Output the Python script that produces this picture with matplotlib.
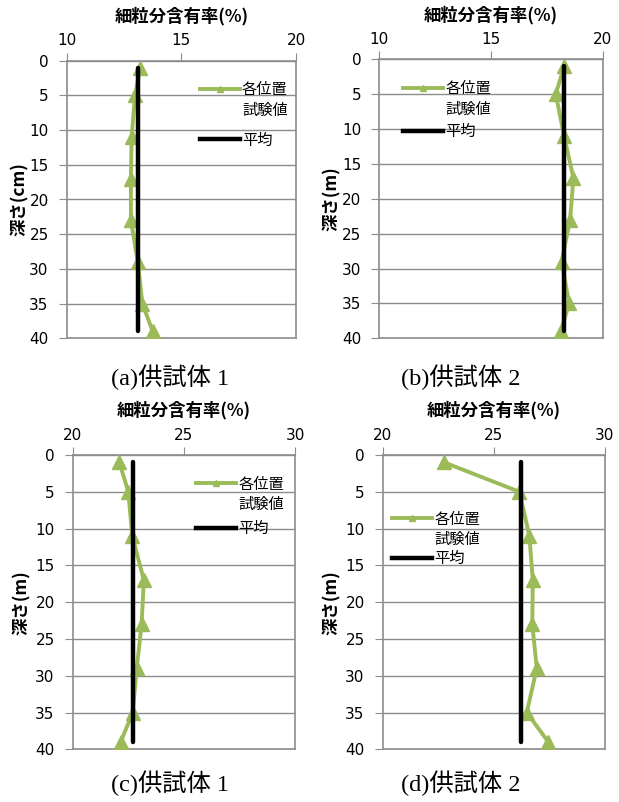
import matplotlib
matplotlib.use("Agg")
import matplotlib.pyplot as plt
from matplotlib.lines import Line2D

plt.rcParams['font.family'] = ['Noto Sans CJK JP', 'DejaVu Sans']

# Depths of the measurement positions and the span of the mean line
depths = [1, 5, 11, 17, 23, 29, 35, 39]
mean_depths = [1, 39]

# Fines content (%) measured at each position
fines_a = [13.2, 12.98, 12.83, 12.8, 12.8, 13.1, 13.3, 13.75]
fines_b = [18.27, 17.9, 18.27, 18.69, 18.54, 18.16, 18.5, 18.12]
fines_c = [22.1, 22.5, 22.68, 23.2, 23.1, 22.88, 22.7, 22.16]
fines_d = [22.76, 26.15, 26.6, 26.75, 26.73, 26.93, 26.48, 27.45]

# Mean fines content for each specimen
mean_a = 13.1
mean_b = 18.28
mean_c = 22.7
mean_d = 26.22

x_ranges = [(10, 20), (10, 20), (20, 30), (20, 30)]
x_ticks = [[10, 15, 20], [10, 15, 20], [20, 25, 30], [20, 25, 30]]
y_ticks = [0, 5, 10, 15, 20, 25, 30, 35, 40]

x_title = '細粒分含有率(%)'
y_titles = ['深さ(cm)', '深さ(m)', '深さ(m)', '深さ(m)']
captions = ['(a)供試体 1', '(b)供試体 2', '(c)供試体 1', '(d)供試体 2']
series_label = ['各位置', '試験値']
mean_label = '平均'

panels = [
    (fines_a, mean_a),
    (fines_b, mean_b),
    (fines_c, mean_c),
    (fines_d, mean_d),
]

W, H = 619, 802
# axes boxes in pixels: left, top, right, bottom
boxes = [
    (66.7, 60.7, 296.0, 338.3),
    (379.3, 59.3, 602.7, 338.3),
    (72.7, 455.0, 295.0, 749.3),
    (382.7, 455.0, 605.0, 749.3),
]
# legend anchors (center-left, axes fraction): measured series, mean
series_leg_pos = [(0.581, 0.858), (0.107, 0.857), (0.555, 0.866), (0.043, 0.747)]
mean_leg_pos = [(0.581, 0.714), (0.107, 0.740), (0.555, 0.750), (0.043, 0.648)]
ylabel_x = [-0.164, -0.173, -0.189, -0.189]
caption_pos = [(170, 377), (461, 377), (170, 783), (461, 783)]

green = '#9BBB59'
grey = '#8C8C8C'
leg_kw = dict(frameon=False, fontsize=11, handlelength=2.6,
              handletextpad=0.15, borderpad=0, labelspacing=0.25,
              borderaxespad=0, loc='center left')

fig = plt.figure(figsize=(W / 100, H / 100), dpi=100)

for i, ((vals, mean), (l, t, r, b)) in enumerate(zip(panels, boxes)):
    ax = fig.add_axes([l / W, 1 - b / H, (r - l) / W, (b - t) / H])
    ax.plot(vals, depths, color=green, lw=2.8, marker='^', markersize=10,
            markeredgecolor=green, markerfacecolor=green, zorder=3)
    ax.plot([mean, mean], mean_depths, color='black', lw=3.2,
            zorder=4, solid_capstyle='round')

    ax.set_xlim(*x_ranges[i])
    ax.set_ylim(40, 0)
    ax.set_xticks(x_ticks[i])
    ax.set_yticks(y_ticks)
    ax.xaxis.tick_top()
    ax.xaxis.set_label_position('top')
    ax.yaxis.grid(True, color=grey, lw=1.0)
    ax.set_axisbelow(True)
    for s in ax.spines.values():
        s.set_color(grey)
        s.set_linewidth(1.2)
    ax.tick_params(axis='both', direction='out', length=6, color=grey,
                   labelsize=11)
    ax.tick_params(axis='x', pad=3)
    ax.tick_params(axis='y', pad=7)
    for lab in ax.get_xticklabels() + ax.get_yticklabels():
        lab.set_fontfamily(['DejaVu Sans'])

    ax.set_xlabel(x_title, fontsize=12.5, fontweight='bold', labelpad=8.5)
    ax.set_ylabel(y_titles[i], fontsize=12.5, fontweight='bold')
    ax.yaxis.set_label_coords(ylabel_x[i], 0.5)

    # measured series entry (label on two lines, handle beside the first)
    h_series = Line2D([], [], color=green, lw=2.8, marker='^', markersize=5,
                      markerfacecolor=green, markeredgecolor=green)
    h_blank = Line2D([], [], color='none')
    leg1 = ax.legend([h_series, h_blank], series_label,
                     bbox_to_anchor=series_leg_pos[i], **leg_kw)
    ax.add_artist(leg1)
    h_mean = Line2D([], [], color='black', lw=3.2)
    ax.legend([h_mean], [mean_label], bbox_to_anchor=mean_leg_pos[i], **leg_kw)

    cx, cy = caption_pos[i]
    fig.text(cx / W, 1 - cy / H, captions[i], ha='center', va='center',
             fontsize=17.5, family=['Liberation Serif', 'Noto Sans CJK JP'])

fig.savefig('out.png', dpi=100)
